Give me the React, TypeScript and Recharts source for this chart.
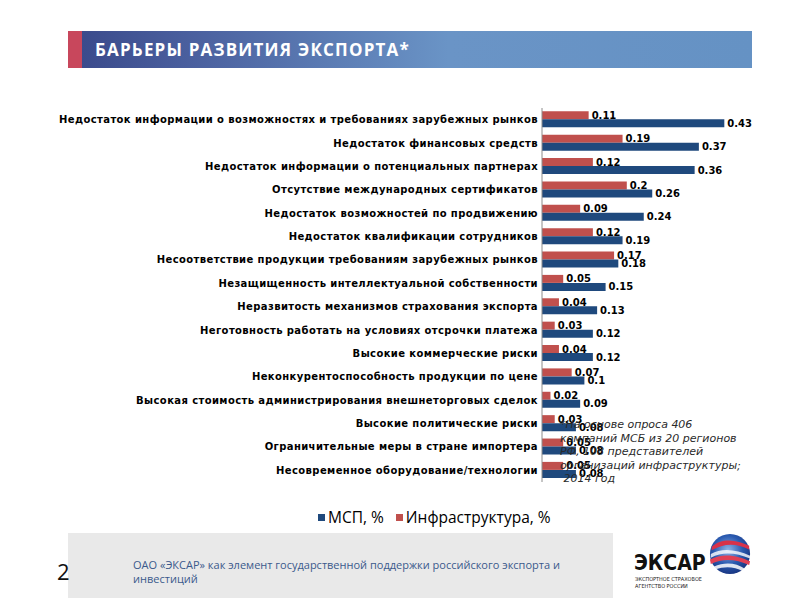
import React from 'react';
import { Bar, BarChart, LabelList, XAxis, YAxis } from 'recharts';

const categories = [
  'Недостаток информации о возможностях и требованиях зарубежных рынков',
  'Недостаток финансовых средств',
  'Недостаток информации о потенциальных партнерах',
  'Отсутствие международных сертификатов ',
  'Недостаток возможностей по продвижению ',
  'Недостаток квалификации сотрудников',
  'Несоответствие продукции требованиям зарубежных рынков',
  'Незащищенность интеллектуальной собственности',
  'Неразвитость  механизмов страхования экспорта',
  'Неготовность работать на условиях отсрочки платежа',
  'Высокие коммерческие риски',
  'Неконкурентоспособность продукции по цене',
  'Высокая стоимость администрирования внешнеторговых сделок',
  'Высокие политические риски',
  'Ограничительные меры в стране импортера',
  'Несовременное оборудование/технологии',
];

const mspValues = [0.43, 0.37, 0.36, 0.26, 0.24, 0.19, 0.18, 0.15, 0.13, 0.12, 0.12, 0.1, 0.09, 0.08, 0.08, 0.08];
const infraValues = [0.11, 0.19, 0.12, 0.2, 0.09, 0.12, 0.17, 0.05, 0.04, 0.03, 0.04, 0.07, 0.02, 0.03, 0.05, 0.05];

const legendItems = [
  { label: 'МСП, %', color: '#1f497d' },
  { label: 'Инфраструктура, %', color: '#c0504d' },
];

const noteLines = [
  '*На основе опроса 406',
  'компаний МСБ из 20 регионов',
  'РФ, 108 представителей',
  'организаций инфраструктуры;',
  ' 2014 год',
];

const data = categories.map((name, i) => ({
  name,
  msp: mspValues[i],
  infra: infraValues[i],
}));

const labelStyle = {
  fill: '#000',
  fontSize: 10,
  fontWeight: 'bold',
  fontFamily: 'DejaVu Sans',
};

function Logo() {
  return (
    <div style={{ position: 'absolute', left: 630, top: 524, width: 130, height: 70 }}>
      <div
        style={{
          position: 'absolute',
          left: 4,
          top: 28.5,
          fontFamily: 'DejaVu Sans Condensed',
          fontWeight: 'bold',
          fontSize: 21,
          lineHeight: '21px',
          color: '#111',
          whiteSpace: 'nowrap',
        }}
      >
        ЭКСАР
      </div>
      <div
        style={{
          position: 'absolute',
          left: 5,
          top: 52,
          fontFamily: 'DejaVu Sans Condensed',
          fontSize: 5.5,
          lineHeight: '6.5px',
          color: '#222',
          whiteSpace: 'nowrap',
        }}
      >
        ЭКСПОРТНОЕ СТРАХОВОЕ
        <br />
        АГЕНТСТВО РОССИИ
      </div>
      <svg style={{ position: 'absolute', left: 79, top: 9 }} width="42" height="42" viewBox="0 0 46 46">
        <defs>
          <radialGradient id="globe" cx="0.45" cy="0.4" r="0.65">
            <stop offset="0%" stopColor="#8fb4e8" />
            <stop offset="55%" stopColor="#2a5ab0" />
            <stop offset="100%" stopColor="#16307a" />
          </radialGradient>
        </defs>
        <circle cx="23" cy="23" r="22" fill="url(#globe)" />
        <path d="M3 15 C14 5, 30 7, 44 14 L44 18 C30 11, 16 11, 3 19 Z" fill="#d8324a" />
        <path d="M2 23 C14 16, 30 18, 45 25 L45 28 C30 22, 16 20, 2 27 Z" fill="#ffffff" opacity="0.8" />
        <path d="M1 29 C16 21, 32 25, 45 31 L44 35 C30 29, 16 27, 2 34 Z" fill="#e04055" />
        <path d="M5 37 C18 31, 30 33, 39 39 L37 42 C28 37, 18 36, 7 40 Z" fill="#ffffff" opacity="0.85" />
      </svg>
    </div>
  );
}

export default function App() {
  return (
    <div
      style={{
        position: 'absolute',
        left: 0,
        top: 0,
        width: 800,
        height: 600,
        background: '#fff',
        fontFamily: 'Open Sans',
        overflow: 'hidden',
      }}
    >
      {/* header */}
      <div
        style={{
          position: 'absolute',
          left: 68,
          top: 31,
          width: 684,
          height: 37,
          background:
            'linear-gradient(to right, #c8475c 0px, #c8475c 14px, #3b4b8c 14px, #4a5f9e 120px, #6a94c6 380px, #6592c4 684px)',
        }}
      />
      <div
        style={{
          position: 'absolute',
          left: 95,
          top: 38,
          color: '#fff',
          fontFamily: 'Open Sans',
          fontWeight: 'bold',
          fontSize: 17,
          letterSpacing: 1.2,
        }}
      >
        БАРЬЕРЫ РАЗВИТИЯ ЭКСПОРТА*
      </div>

      <div style={{ position: 'absolute', left: 0, top: 0 }}>
        <BarChart
          width={800}
          height={600}
          data={data}
          layout="vertical"
          margin={{ top: 108, right: 46, bottom: 118, left: 0 }}
          barCategoryGap="14%"
          barGap={0}
        >
          <XAxis type="number" domain={[0, 0.5]} hide />
          <YAxis
            type="category"
            dataKey="name"
            width={542}
            tickLine={false}
            tickSize={0}
            tickMargin={4}
            axisLine={{ stroke: '#8c8c8c' }}
            interval={0}
            tick={{ ...labelStyle, letterSpacing: 0.4 }}
          />
          <Bar dataKey="infra" fill="#c0504d" isAnimationActive={false}>
            <LabelList dataKey="infra" position="right" offset={3} style={labelStyle} />
          </Bar>
          <Bar dataKey="msp" fill="#1f497d" isAnimationActive={false}>
            <LabelList dataKey="msp" position="right" offset={3} style={labelStyle} />
          </Bar>
        </BarChart>
      </div>

      {/* note */}
      <div
        style={{
          position: 'absolute',
          left: 560,
          top: 418,
          fontFamily: 'DejaVu Sans',
          fontStyle: 'italic',
          fontSize: 11,
          lineHeight: '13.5px',
          color: '#2a2a2a',
          whiteSpace: 'pre',
        }}
      >
        {noteLines.map((l) => (
          <div key={l}>{l}</div>
        ))}
      </div>

      {/* legend */}
      <div
        style={{
          position: 'absolute',
          left: 318,
          top: 506,
          display: 'flex',
          alignItems: 'center',
          fontFamily: 'Open Sans',
          fontSize: 15.5,
          color: '#000',
        }}
      >
        {legendItems.map((it, i) => (
          <div key={it.label} style={{ display: 'flex', alignItems: 'center', marginRight: i === 0 ? 12 : 0 }}>
            <span style={{ display: 'inline-block', width: 7, height: 7, background: it.color, marginRight: 3 }} />
            <span>{it.label}</span>
          </div>
        ))}
      </div>

      {/* footer */}
      <div
        style={{
          position: 'absolute',
          left: 68,
          top: 533,
          width: 545,
          height: 65,
          background: '#e9e9e9',
        }}
      />
      <div
        style={{
          position: 'absolute',
          left: 133,
          top: 558,
          width: 470,
          fontFamily: 'Open Sans',
          fontSize: 11,
          lineHeight: '14px',
          color: '#3b5a8c',
        }}
      >
        ОАО «ЭКСАР» как элемент государственной поддержки российского экспорта и
        <br />
        инвестиций
      </div>
      <div
        style={{
          position: 'absolute',
          left: 57,
          top: 556,
          fontFamily: 'Open Sans',
          fontSize: 22,
          color: '#111',
        }}
      >
        2
      </div>
      <Logo />
    </div>
  );
}
